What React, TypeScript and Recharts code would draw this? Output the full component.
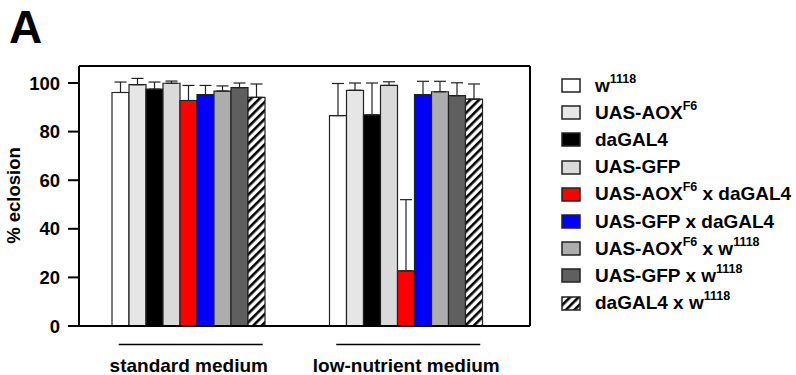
import React from 'react';
import { BarChart, Bar, XAxis, YAxis, ErrorBar, Legend } from 'recharts';

const FONT = '"Liberation Sans", Arial, Helvetica, sans-serif';

const groups = ['standard medium', 'low-nutrient medium'];
const seriesKeys = ['w1118', 'aox', 'dagal4', 'gfp', 'aoxDa', 'gfpDa', 'aoxW', 'gfpW', 'daW'];
const seriesLabels = [
  'w^1118',
  'UAS-AOX^F6',
  'daGAL4',
  'UAS-GFP',
  'UAS-AOX^F6^ x daGAL4',
  'UAS-GFP x daGAL4',
  'UAS-AOX^F6^ x w^1118',
  'UAS-GFP x w^1118',
  'daGAL4 x w^1118',
];
const seriesFills = ['#ffffff', '#e6e6e6', '#000000', '#dadada', '#ff0000', '#0000ff', '#adadad', '#5f5f5f', 'url(#hatch)'];

const standardValues = [96.1, 99.3, 97.5, 99.9, 92.8, 95.2, 96.7, 98.1, 94.1];
const standardErrors = [4.3, 2.6, 2.9, 0.9, 6.2, 3.8, 2.1, 1.9, 5.5];
const lowValues = [86.6, 97.0, 86.9, 99.0, 22.7, 95.2, 96.4, 94.8, 93.4];
const lowErrors = [13.2, 3.0, 13.1, 1.5, 29.3, 5.5, 4.3, 5.3, 6.2];

const yTicks = [0, 20, 40, 60, 80, 100];

const groupValues = [standardValues, lowValues];
const groupErrors = [standardErrors, lowErrors];

const data = groups.map((g, gi) => {
  const row: Record<string, unknown> = { group: g };
  seriesKeys.forEach((k, i) => {
    row[k] = groupValues[gi][i];
    row[k + '_err'] = [0, groupErrors[gi][i]];
  });
  return row;
});

function renderLabel(label: string) {
  const parts = label.split('^');
  return parts.map((p, i) =>
    i % 2 === 1 ? (
      <span key={i} style={{ fontSize: 12.5, position: 'relative', top: -9 }}>{p}</span>
    ) : (
      <span key={i}>{p}</span>
    )
  );
}

const LegendContent = () => (
  <div style={{ fontFamily: FONT }}>
    {seriesKeys.map((k, i) => (
      <div key={k} style={{ height: 27.2, display: 'flex', alignItems: 'center' }}>
        <svg width={20} height={15} style={{ display: 'block' }}>
          <rect x={1} y={1} width={18} height={13} fill={seriesFills[i]} stroke="#222" strokeWidth={1.5} />
        </svg>
        <span style={{ marginLeft: 14, fontSize: 19, fontWeight: 'bold', color: '#000', whiteSpace: 'nowrap' }}>
          {renderLabel(seriesLabels[i])}
        </span>
      </div>
    ))}
  </div>
);

const GroupTick = (props: any) => {
  const { x, payload } = props;
  return (
    <g>
      <line x1={x - 70} x2={x + 74} y1={344.5} y2={344.5} stroke="#000" strokeWidth={1.5} />
      <text x={x} y={372} textAnchor="middle" fontSize={19} fontWeight="bold" fontFamily={FONT} fill="#000">
        {payload.value}
      </text>
    </g>
  );
};

const YLabel = () => {
  const cy = 195.5;
  return (
    <text
      x={13}
      y={cy}
      transform={`rotate(-90, 13, ${cy})`}
      textAnchor="middle"
      dominantBaseline="central"
      fontSize={18.5}
      fontWeight="bold"
      fontFamily={FONT}
      fill="#000"
    >
      % eclosion
    </text>
  );
};

export default function App() {
  return (
    <div style={{ position: 'absolute', left: 0, top: 0, width: 796, height: 375, background: '#fff', fontFamily: FONT }}>
      <svg width={60} height={60} style={{ position: 'absolute', left: 0, top: 0 }}>
        <text x={9} y={43} fontSize={46} fontWeight="bold" fontFamily={FONT} fill="#000">A</text>
      </svg>
      <BarChart
        width={796}
        height={375}
        data={data}
        margin={{ top: 65, right: 265, bottom: 0, left: 0 }}
        barGap={0}
        barSize={17}
      >
        <defs>
          <pattern id="hatch" width="6" height="6" patternUnits="userSpaceOnUse" patternTransform="rotate(45)">
            <rect width="6" height="6" fill="#fff" />
            <rect width="2.6" height="6" fill="#000" />
          </pattern>
        </defs>
        <XAxis
          dataKey="group"
          height={49}
          interval={0}
          padding={{ left: 1, right: 15 }}
          tickLine={false}
          axisLine={{ stroke: '#000', strokeWidth: 2 }}
          tick={<GroupTick />}
        />
        <XAxis
          xAxisId="top"
          orientation="top"
          dataKey="group"
          height={1}
          tick={false}
          tickLine={false}
          axisLine={{ stroke: '#000', strokeWidth: 2 }}
        />
        <YAxis
          width={79}
          domain={[0, 107]}
          ticks={yTicks}
          interval={0}
          tickSize={11}
          tickMargin={8}
          tickLine={{ stroke: '#000', strokeWidth: 2 }}
          axisLine={{ stroke: '#000', strokeWidth: 2 }}
          tick={{ fontSize: 18.5, fontWeight: 'bold', fill: '#000', fontFamily: FONT }}
          label={<YLabel />}
        />
        <YAxis
          yAxisId="right"
          orientation="right"
          width={1}
          domain={[0, 107]}
          tick={false}
          tickLine={false}
          axisLine={{ stroke: '#000', strokeWidth: 2 }}
        />
        <Legend
          layout="vertical"
          align="center"
          verticalAlign="middle"
          wrapperStyle={{ position: 'absolute', left: 561, top: 72, width: 235 }}
          content={<LegendContent />}
        />
        {seriesKeys.map((k, i) => (
          <Bar key={k} dataKey={k} fill={seriesFills[i]} stroke="#222" strokeWidth={1.2} isAnimationActive={false}>
            <ErrorBar dataKey={k + '_err'} width={6} stroke="#222" strokeWidth={1.2} direction="y" />
          </Bar>
        ))}
      </BarChart>
    </div>
  );
}
